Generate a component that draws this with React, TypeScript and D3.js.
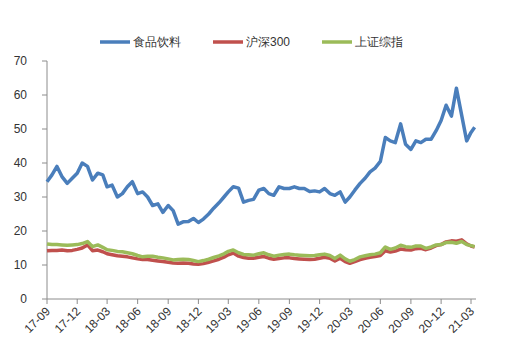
import React from 'react';
import * as d3 from 'd3';

// semi-monthly observation dates
const dates = [
  '2017-09-01', '2017-09-16', '2017-10-01', '2017-10-16', '2017-11-01', '2017-11-16', '2017-12-01', '2017-12-16',
  '2018-01-01', '2018-01-16', '2018-02-01', '2018-02-16', '2018-03-01', '2018-03-16', '2018-04-01', '2018-04-16',
  '2018-05-01', '2018-05-16', '2018-06-01', '2018-06-16', '2018-07-01', '2018-07-16', '2018-08-01', '2018-08-16',
  '2018-09-01', '2018-09-16', '2018-10-01', '2018-10-16', '2018-11-01', '2018-11-16', '2018-12-01', '2018-12-16',
  '2019-01-01', '2019-01-16', '2019-02-01', '2019-02-16', '2019-03-01', '2019-03-16', '2019-04-01', '2019-04-16',
  '2019-05-01', '2019-05-16', '2019-06-01', '2019-06-16', '2019-07-01', '2019-07-16', '2019-08-01', '2019-08-16',
  '2019-09-01', '2019-09-16', '2019-10-01', '2019-10-16', '2019-11-01', '2019-11-16', '2019-12-01', '2019-12-16',
  '2020-01-01', '2020-01-16', '2020-02-01', '2020-02-16', '2020-03-01', '2020-03-16', '2020-04-01', '2020-04-16',
  '2020-05-01', '2020-05-16', '2020-06-01', '2020-06-16', '2020-07-01', '2020-07-16', '2020-08-01', '2020-08-16',
  '2020-09-01', '2020-09-16', '2020-10-01', '2020-10-16', '2020-11-01', '2020-11-16', '2020-12-01', '2020-12-16',
  '2021-01-01', '2021-01-16', '2021-02-01', '2021-02-16', '2021-03-01', '2021-03-12',
];

const food = [
  34.5, 36.5, 39.0, 36.0, 34.0, 35.5, 37.0, 40.0,
  39.0, 35.0, 37.0, 36.5, 33.0, 33.5, 30.0, 31.0,
  33.0, 34.5, 31.0, 31.5, 30.0, 27.5, 28.0, 25.5,
  27.5, 26.0, 22.0, 22.7, 22.8, 23.7, 22.5, 23.5,
  25.0, 26.7, 28.3, 30.0, 31.5, 33.0, 32.6, 28.5,
  29.0, 29.3, 32.0, 32.5, 31.0, 30.5, 33.0, 32.5,
  32.5, 33.0, 32.5, 32.5, 31.6, 31.8, 31.5, 32.5,
  31.0, 30.5, 31.5, 28.5, 30.0, 32.0, 34.0, 35.5,
  37.4, 38.5, 40.5, 47.5, 46.5, 46.0, 51.5, 45.5,
  44.0, 46.5, 46.0, 47.0, 47.0, 49.5, 52.5, 57.0,
  53.8, 62.0, 54.0, 46.5, 49.0, 50.5,
];

const hs300 = [
  14.2, 14.3, 14.3, 14.4, 14.2, 14.3, 14.6, 15.0,
  15.9, 14.2, 14.4, 13.9, 13.3, 13.0, 12.7, 12.6,
  12.4, 12.1, 11.8, 11.6, 11.6, 11.4, 11.2, 11.0,
  10.8, 10.6, 10.5, 10.6, 10.5, 10.3, 10.2, 10.4,
  10.8, 11.2, 11.7, 12.3, 13.0, 13.5, 12.6, 12.2,
  12.0, 12.0, 12.3, 12.5, 12.0, 11.7, 11.9, 12.1,
  12.1, 11.9, 11.8, 11.7, 11.6, 11.7, 12.0, 12.3,
  12.0, 11.2, 12.0, 11.0, 10.5, 11.0, 11.6, 12.0,
  12.3, 12.5, 12.8, 14.2, 13.8, 14.1, 14.7, 14.5,
  14.4, 14.8, 14.9, 14.5, 15.0, 15.7, 16.0, 16.8,
  17.1, 17.0, 17.4, 16.2, 15.6, 15.3,
];

const shIndex = [
  16.2, 16.0, 16.0, 15.9, 15.8, 15.9, 16.0, 16.3,
  16.9, 15.4, 15.9, 15.2, 14.5, 14.3, 14.0, 13.9,
  13.6, 13.3, 12.8, 12.4, 12.6, 12.6, 12.3, 12.1,
  11.8, 11.5, 11.6, 11.7, 11.6, 11.3, 11.0, 11.3,
  11.7, 12.2, 12.7, 13.3, 14.0, 14.4, 13.6, 13.1,
  13.0, 12.9, 13.3, 13.6, 13.0, 12.6, 12.9, 13.1,
  13.2, 13.0, 12.9, 12.8, 12.7, 12.8, 13.0, 13.2,
  12.8, 11.9, 12.9, 11.8, 11.1, 11.6, 12.4, 12.7,
  13.0, 13.2, 13.6, 15.3, 14.6, 15.0, 15.8, 15.4,
  15.2, 15.6, 15.6, 14.9, 15.3, 15.9, 16.0, 16.6,
  16.7, 16.4, 16.9, 16.0, 15.7, 15.4,
];

const seriesNames = ['食品饮料', '沪深300', '上证综指'];
const seriesColors = ['#4a7ebb', '#c0504d', '#9bbb59'];
const yTicks = [0, 10, 20, 30, 40, 50, 60, 70];
const xTickMonths = [
  '2017-09-01', '2017-12-01', '2018-03-01', '2018-06-01', '2018-09-01',
  '2018-12-01', '2019-03-01', '2019-06-01', '2019-09-01', '2019-12-01',
  '2020-03-01', '2020-06-01', '2020-09-01', '2020-12-01', '2021-03-01',
];

const W = 523;
const H = 364;
const FONT = '"Liberation Sans", Arial, sans-serif';

export default function App() {
  const parse = d3.timeParse('%Y-%m-%d');
  const fmt = d3.timeFormat('%y-%m');
  const t = dates.map((d) => parse(d) as Date);
  const ticks = xTickMonths.map((d) => parse(d) as Date);

  const left = 47;
  const right = 471;
  const x = d3.scaleTime().domain([ticks[0], ticks[ticks.length - 1]]).range([left, right]);
  const y = d3.scaleLinear().domain([0, 70]).range([299, 61]);
  const axisEnd = 476;

  const allSeries = [food, hs300, shIndex];
  const line = d3.line<number>()
    .x((_, i) => x(t[i]))
    .y((v) => y(v))
    .curve(d3.curveLinear);

  const axisColor = '#8c8c8c';
  const legendX = [100, 213, 322];

  return (
    <svg width={W} height={H} style={{ position: 'absolute', left: 0, top: 0, background: '#fff' }}>
      {/* legend */}
      {seriesNames.map((n, i) => (
        <g key={n} transform={`translate(${legendX[i]},42)`}>
          <line x1={0} x2={30} y1={0} y2={0} stroke={seriesColors[i]} strokeWidth={3.5} />
          <text x={33} y={4} fontSize={12} fontFamily={FONT} fill="#333">{n}</text>
        </g>
      ))}

      {/* y axis */}
      <line x1={left} x2={left} y1={y(70)} y2={y(0)} stroke={axisColor} strokeWidth={1} />
      {yTicks.map((v) => (
        <g key={v}>
          <line x1={left - 5} x2={left} y1={y(v)} y2={y(v)} stroke={axisColor} />
          <text x={27} y={y(v) + 4} textAnchor="end" fontSize={12} fontFamily={FONT} fill="#333">{v}</text>
        </g>
      ))}

      {/* x axis */}
      <line x1={left} x2={axisEnd} y1={y(0)} y2={y(0)} stroke={axisColor} />
      {ticks.map((d) => (
        <g key={d.getTime()}>
          <line x1={x(d)} x2={x(d)} y1={y(0)} y2={y(0) + 5} stroke={axisColor} />
          <text
            transform={`translate(${x(d) + 4},${y(0) + 13}) rotate(-45)`}
            textAnchor="end"
            fontSize={12}
            fontFamily={FONT}
            fill="#333"
          >
            {fmt(d)}
          </text>
        </g>
      ))}

      {/* series */}
      {allSeries.map((s, i) => (
        <path
          key={seriesNames[i]}
          d={line(s) || ''}
          fill="none"
          stroke={seriesColors[i]}
          strokeWidth={3.5}
          strokeLinejoin="round"
        />
      ))}
    </svg>
  );
}
